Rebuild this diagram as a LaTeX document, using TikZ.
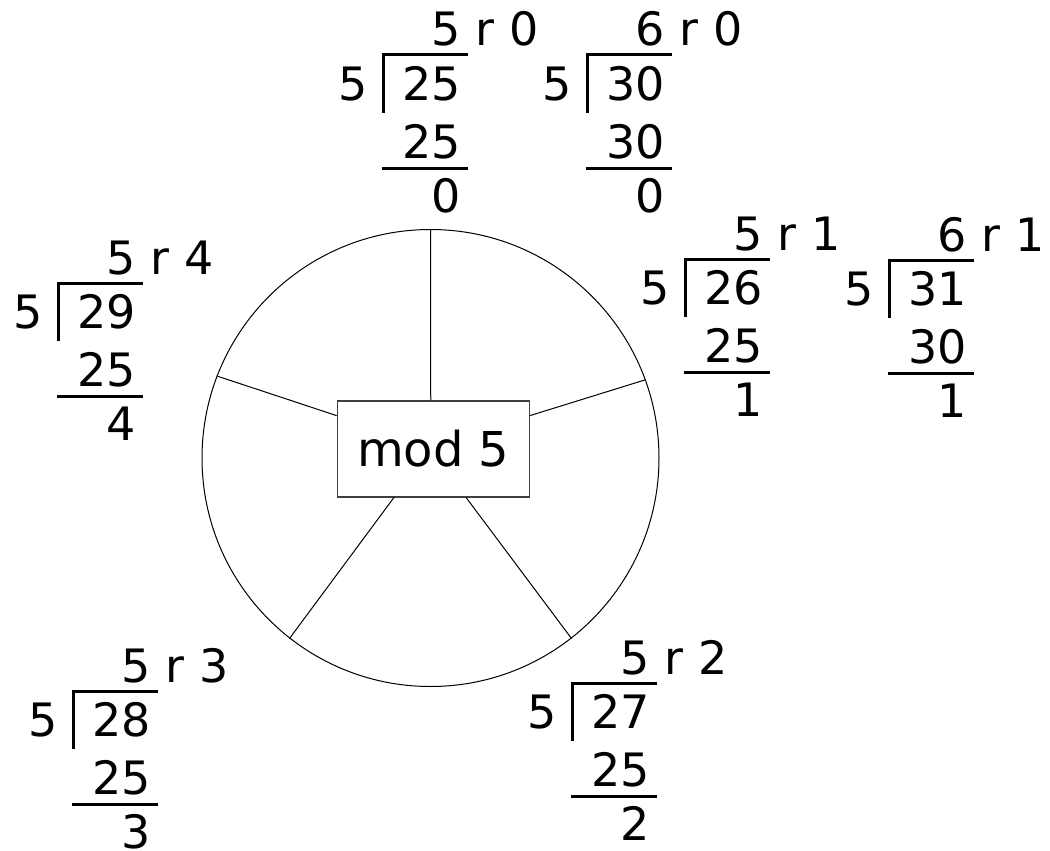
\documentclass[tikz,border=0pt]{standalone}
\usepackage{fontspec}
\setmainfont{DejaVu Sans}
\usetikzlibrary{positioning}

% one long division; the bracket corner sits at (#2,#3)
\newcommand{\divblock}[8]{%
  \begin{scope}[shift={(#2,#3)}]
    \node[num, anchor=base east] (#1-q) at (78,-9) {#4};
    \node[num, anchor=base west] (#1-r) at (#1-q.base east) {\ r #5};
    \node[num, anchor=base east] (#1-d) at (-15,45) {5};
    \node[num, anchor=base east] (#1-n) at (78,45) {#6};
    \node[num, anchor=base east] (#1-p) at (78,103) {#7};
    \node[num, anchor=base east] (#1-m) at (78,157) {#8};
    \draw[bar] (0,58) -- (0,0) -- (85,0);
    \draw[bar] (-1,113) -- (85,113);
  \end{scope}}

\begin{document}
\begin{tikzpicture}[
  x=1pt, y=-1pt,
  num/.style={font=\fontsize{46}{54}\selectfont, inner sep=0pt},
  bar/.style={line width=3pt},
  spoke/.style={line width=1pt},
  modbox/.style={draw=black!75, line width=1.2pt, fill=white, minimum width=192pt, minimum height=96pt, font=\fontsize{48}{56}\selectfont}
]
\useasboundingbox (0,0) rectangle (1050,851);

% the wheel of residues
\node[circle, draw, line width=1pt, minimum size=457pt, inner sep=0pt] (ring) at (430.5,458) {};
\node[modbox] (box) at (433.3,448.9) {mod 5};
\draw[spoke] (ring.90) -- (box.93.9);
\draw[spoke] (ring.20.6) -- (box.19.5);
\draw[spoke] (ring.-52.2) -- (box.304.9);
\draw[spoke] (ring.232.4) -- (box.231.3);
\draw[spoke] (ring.159.4) -- (box.161.8);

% remainder 0
\divblock{a}{383}{55}{5}{0}{25}{25}{0}
\divblock{b}{587}{55}{6}{0}{30}{30}{0}
% remainder 1
\divblock{c}{685}{259}{5}{1}{26}{25}{1}
\divblock{d}{889}{260}{6}{1}{31}{30}{1}
% remainders 2, 3, 4
\divblock{g}{572}{683}{5}{2}{27}{25}{2}
\divblock{f}{73}{691}{5}{3}{28}{25}{3}
\divblock{e}{58}{283}{5}{4}{29}{25}{4}
\end{tikzpicture}
\end{document}
